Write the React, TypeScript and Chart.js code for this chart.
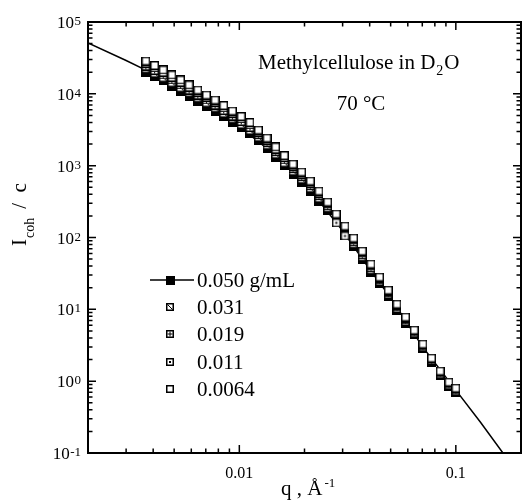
import { useEffect, useRef } from "react";
import { Chart, registerables } from "chart.js";

Chart.register(...registerables);

// ---- data ----
const qValues = [
  0.0037, 0.00406, 0.00445, 0.00488, 0.00535, 0.00586, 0.00643, 0.00705, 0.00773, 0.00847,
  0.00929, 0.0102, 0.0112, 0.01225, 0.01343, 0.01472, 0.01614, 0.0177, 0.01941, 0.02128,
  0.02333, 0.02559, 0.02805, 0.03076, 0.03373, 0.03698, 0.04055, 0.04446, 0.04875, 0.05346,
  0.05861, 0.06427, 0.07047, 0.07727, 0.08472, 0.0929, 0.1,
];
const c0050 = [
  20100, 17400, 15100, 12800, 10900, 9320, 7940, 6760, 5760, 4830, 4050, 3390, 2800, 2270, 1760,
  1320, 1000, 764, 591, 443, 321, 241, 164, 111, 75.9, 50.0, 33.0, 23.2, 15.3, 9.74, 6.43, 4.51,
  2.89, 1.84, 1.21, 0.851, 0.703,
];
const c0031 = [
  22400, 19400, 16800, 14300, 12200, 10400, 8820, 7520, 6400, 5370, 4500, 3770, 3110, 2500, 1940,
  1450, 1100, 842, 651, 488, 354, 260, 177, 120, 82.0, 54.0, 35.6, 24.6, 16.2, 10.3, 6.81, 4.69,
  3.0, 1.91, 1.26, 0.885, 0.73,
];
const c0019 = [
  24400, 21200, 18300, 15600, 13300, 11300, 9630, 8210, 6990, 5860, 4910, 4120, 3400, 2710, 2100,
  1570, 1200, 912, 705, 528, 383, 277, 189, 128, 87.4, 57.6, 38.0, 25.8, 17.0, 10.8, 7.14, 4.84,
  3.1, 1.97, 1.3, 0.914, 0.754,
];
const c0011 = [
  26700, 23100, 20000, 17000, 14500, 12400, 10500, 8970, 7640, 6400, 5370, 4500, 3710, 2940, 2270,
  1700, 1300, 988, 764, 572, 415, 296, 160, 105, 93.2, 61.4, 40.5, 27.0, 17.8, 11.4, 7.5, 5.0,
  3.2, 2.04, 1.35, 0.943, 0.779,
];
const c0064 = [
  28600, 24800, 21500, 18300, 15600, 13300, 11300, 9620, 8200, 6870, 5760, 4830, 3990, 3130, 2420,
  1820, 1380, 1050, 815, 610, 443, 311, 212, 144, 98.1, 64.6, 42.6, 28.1, 18.5, 11.8, 7.79, 5.13,
  3.28, 2.09, 1.38, 0.968, 0.799,
];
const fitQ = [0.002, 0.003, 0.0037, 0.005, 0.007, 0.01, 0.015, 0.02, 0.03, 0.04, 0.05, 0.07, 0.1, 0.13, 0.165, 0.17];
const fitI = [51000, 29100, 21400, 12600, 6900, 3500, 1330, 580, 124, 36, 14.5, 3.05, 0.75, 0.268, 0.1, 0.089];

const legendLabels = ["0.050 g/mL", "0.031", "0.019", "0.011", "0.0064"];
const markerKinds = ["filled", "diag", "cross", "dot", "open"];
const yTickExponents = [-1, 0, 1, 2, 3, 4, 5];
const xTickValues = [0.01, 0.1];
const xTickLabels = ["0.01", "0.1"];

const SERIF = '"Liberation Serif", "DejaVu Serif", serif';

function makeMarker(kind: string, size: number): HTMLCanvasElement {
  const c = document.createElement("canvas");
  c.width = size;
  c.height = size;
  const g = c.getContext("2d")!;
  g.fillStyle = "#000";
  g.fillRect(0, 0, size, size);
  if (kind === "filled") return c;
  g.fillStyle = "#fff";
  g.fillRect(1.5, 1.5, size - 3, size - 3);
  g.strokeStyle = "#000";
  g.fillStyle = "#000";
  g.lineWidth = 1;
  const m = size / 2;
  if (kind === "diag") {
    g.beginPath();
    g.moveTo(1.5, 1.5);
    g.lineTo(size - 1.5, size - 1.5);
    g.stroke();
  } else if (kind === "cross") {
    g.beginPath();
    g.moveTo(m, 1.5);
    g.lineTo(m, size - 1.5);
    g.moveTo(1.5, m);
    g.lineTo(size - 1.5, m);
    g.stroke();
  } else if (kind === "dot") {
    g.fillRect(m - 1, m - 1, 2, 2);
  }
  return c;
}

export default function App() {
  const ref = useRef<HTMLCanvasElement | null>(null);

  useEffect(() => {
    if (!ref.current) return;
    const markers = markerKinds.map((k) => makeMarker(k, 9));
    const legendMarkers = markerKinds.map((k, i) => makeMarker(k, i === 0 ? 9 : 8));
    const seriesValues = [c0050, c0031, c0019, c0011, c0064];

    const scatterSets = seriesValues.map((vals, i) => ({
      type: "scatter" as const,
      label: legendLabels[i],
      data: qValues.map((q, j) => ({ x: q, y: vals[j] })),
      pointStyle: markers[i],
      pointRadius: 4,
      showLine: false,
      order: 4 - i,
    }));

    const fitSet = {
      type: "line" as const,
      label: "fit",
      data: fitQ.map((q, j) => ({ x: q, y: fitI[j] })),
      borderColor: "#000",
      borderWidth: 1.5,
      pointRadius: 0,
      showLine: true,
      fill: false,
      order: 10,
    };

    const decor = {
      id: "decor",
      afterDatasetsDraw(chart: any) {
        const ctx = chart.ctx as CanvasRenderingContext2D;
        const xs = chart.scales.x;
        const ys = chart.scales.y;
        const a = chart.chartArea;
        ctx.save();
        ctx.strokeStyle = "#000";
        ctx.fillStyle = "#000";

        // ticks
        ctx.lineWidth = 1.5;
        ctx.beginPath();
        for (let e = -2; e <= 5; e++) {
          for (let m = 1; m <= 9; m++) {
            const v = m * Math.pow(10, e);
            if (v < 0.1 * 0.999 || v > 1e5 * 1.001) continue;
            const py = ys.getPixelForValue(v);
            const len = m === 1 ? 8 : 4.5;
            ctx.moveTo(a.left, py);
            ctx.lineTo(a.left + len, py);
            ctx.moveTo(a.right, py);
            ctx.lineTo(a.right - len, py);
          }
        }
        for (let e = -3; e <= -1; e++) {
          for (let m = 1; m <= 9; m++) {
            const v = m * Math.pow(10, e);
            if (v < 0.002 * 0.999 || v > 0.2 * 1.001) continue;
            const px = xs.getPixelForValue(v);
            const len = m === 1 ? 8 : 4.5;
            ctx.moveTo(px, a.bottom);
            ctx.lineTo(px, a.bottom - len);
            ctx.moveTo(px, a.top);
            ctx.lineTo(px, a.top + len);
          }
        }
        ctx.stroke();

        // frame
        ctx.lineWidth = 2;
        ctx.strokeRect(a.left, a.top, a.right - a.left, a.bottom - a.top);

        // y tick labels
        ctx.textBaseline = "alphabetic";
        ctx.textAlign = "left";
        for (const e of yTickExponents) {
          const py = ys.getPixelForValue(Math.pow(10, e));
          ctx.font = `17px ${SERIF}`;
          const w10 = ctx.measureText("10").width;
          ctx.font = `13px ${SERIF}`;
          const sup = String(e);
          const wsup = ctx.measureText(sup).width;
          const x0 = 81 - (w10 + wsup + 0.5);
          ctx.font = `17px ${SERIF}`;
          ctx.fillText("10", x0, py + 6);
          ctx.font = `13px ${SERIF}`;
          ctx.fillText(sup, x0 + w10 + 0.5, py + 3);
        }

        // x tick labels
        ctx.font = `16px ${SERIF}`;
        ctx.textAlign = "center";
        xTickValues.forEach((v, i) => {
          ctx.fillText(xTickLabels[i], xs.getPixelForValue(v), 478);
        });

        // x axis title: q , Å^-1
        ctx.textAlign = "left";
        ctx.font = `21px ${SERIF}`;
        ctx.fillText("q , Å", 281, 495);
        const wq = ctx.measureText("q , Å").width;
        ctx.font = `13px ${SERIF}`;
        ctx.fillText("-1", 281 + wq + 2, 487);

        // y axis title: I_coh / c (rotated)
        ctx.save();
        ctx.translate(26, 246);
        ctx.rotate(-Math.PI / 2);
        ctx.font = `21px ${SERIF}`;
        ctx.fillText("I", 0, 0);
        const wI = ctx.measureText("I").width;
        ctx.font = `14px ${SERIF}`;
        ctx.fillText("coh", wI + 1, 8);
        const wc = ctx.measureText("coh").width;
        ctx.font = `21px ${SERIF}`;
        ctx.fillText("/  c", wI + wc + 10, 0);
        ctx.restore();

        // title
        ctx.font = `21px ${SERIF}`;
        const t1 = "Methylcellulose in D";
        ctx.fillText(t1, 258, 69);
        const wt1 = ctx.measureText(t1).width;
        ctx.font = `14px ${SERIF}`;
        ctx.fillText("2", 258 + wt1 + 1, 75);
        const w2 = ctx.measureText("2").width;
        ctx.font = `21px ${SERIF}`;
        ctx.fillText("O", 258 + wt1 + w2 + 2, 69);
        ctx.textAlign = "center";
        ctx.fillText("70 °C", 361, 110);

        // legend
        ctx.textAlign = "left";
        ctx.textBaseline = "middle";
        ctx.font = `21px ${SERIF}`;
        const rowY = [280, 307, 334, 362, 389];
        legendLabels.forEach((lab, i) => {
          const y = rowY[i];
          if (i === 0) {
            ctx.lineWidth = 1.5;
            ctx.beginPath();
            ctx.moveTo(150, y);
            ctx.lineTo(194, y);
            ctx.stroke();
          }
          const mk = legendMarkers[i];
          ctx.drawImage(mk, Math.round(170 - mk.width / 2), Math.round(y - mk.height / 2));
          ctx.fillText(lab, 197, y + 1);
        });

        ctx.restore();
      },
    };

    const chart = new Chart(ref.current, {
      type: "scatter",
      data: { datasets: [...scatterSets, fitSet] as any },
      options: {
        responsive: false,
        animation: false,
        devicePixelRatio: 1,
        layout: { autoPadding: false, padding: { left: 88, right: 1, top: 22, bottom: 48 } },
        scales: {
          x: { type: "logarithmic", min: 0.002, max: 0.2, display: false },
          y: { type: "logarithmic", min: 0.1, max: 1e5, display: false },
        },
        plugins: { legend: { display: false }, tooltip: { enabled: false } },
      },
      plugins: [decor],
    });
    return () => chart.destroy();
  }, []);

  return (
    <div style={{ position: "absolute", left: 0, top: 0, width: 522, height: 501, background: "#fff" }}>
      <canvas ref={ref} width={522} height={501} style={{ width: 522, height: 501, display: "block" }} />
    </div>
  );
}
